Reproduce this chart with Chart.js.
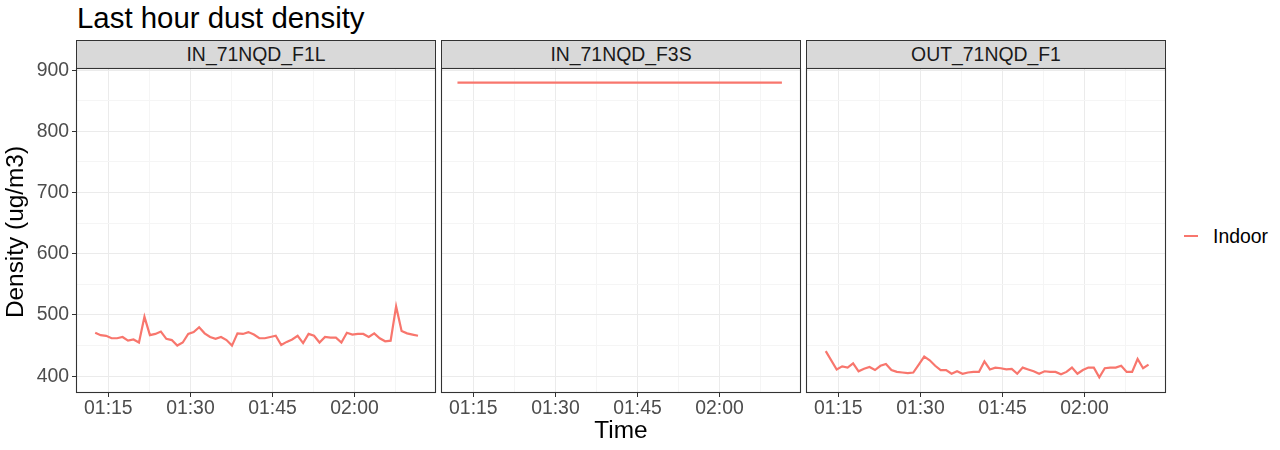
<!DOCTYPE html>
<html>
<head>
<meta charset="utf-8">
<script src="https://cdn.jsdelivr.net/npm/chart.js@4.4.1/dist/chart.umd.min.js"></script>
<style>
  html, body { margin: 0; padding: 0; background: #fff; }
  body { width: 1280px; height: 450px; position: relative; overflow: hidden; font-family: 'Liberation Sans', Arial, sans-serif; }
  .abs { position: absolute; white-space: nowrap; }
  .title { left: 77px; top: 3px; font-size: 29.4px; line-height: 1; color: #000; }
  .strip { top: 40px; width: 360px; height: 29px; box-sizing: border-box; background: #d9d9d9; border: 1px solid #333;
           font-size: 19.4px; line-height: 27px; color: #1a1a1a; text-align: center; }
  .panel { top: 58px; }
  .ytitle { left: -135px; top: 220px; width: 300px; height: 24px; font-size: 24.4px; line-height: 24px; text-align: center;
            transform: rotate(-90deg); color: #000; }
  .xtitle { left: 521px; top: 418px; width: 200px; font-size: 24.4px; line-height: 1; text-align: center; color: #000; }
  .key { left: 1184px; top: 235px; width: 14px; height: 2px; background: #F8766D; }
  .keytxt { left: 1213px; top: 227px; font-size: 19.4px; line-height: 1; color: #000; }
</style>
</head>
<body>
<div class="abs title">Last hour dust density</div>

<div class="abs strip" style="left:76px">IN_71NQD_F1L</div>
<div class="abs strip" style="left:441px">IN_71NQD_F3S</div>
<div class="abs strip" style="left:806px">OUT_71NQD_F1</div>

<div class="abs panel" style="left:0px"><canvas id="p1" width="440" height="375"></canvas></div>
<div class="abs panel" style="left:436px"><canvas id="p2" width="369" height="375"></canvas></div>
<div class="abs panel" style="left:801px"><canvas id="p3" width="369" height="375"></canvas></div>

<div class="abs ytitle">Density (ug/m3)</div>
<div class="abs xtitle">Time</div>
<div class="abs key"></div>
<div class="abs keytxt">Indoor</div>

<script>
// ── Data (time = minutes after 01:00) ─────────────────
const SERIES = 'Indoor';
const PANELS = ['IN_71NQD_F1L', 'IN_71NQD_F3S', 'OUT_71NQD_F1'];

const timeF1L = [12.6, 13.6, 14.6, 15.6, 16.6, 17.6, 18.6, 19.6, 20.6, 21.6,
                 22.6, 23.6, 24.6, 25.6, 26.6, 27.6, 28.6, 29.6, 30.6, 31.6,
                 32.6, 33.6, 34.6, 35.6, 36.6, 37.6, 38.6, 39.6, 40.6, 41.6,
                 42.6, 43.6, 44.6, 45.6, 46.6, 47.6, 48.6, 49.6, 50.6, 51.6,
                 52.6, 53.6, 54.6, 55.6, 56.6, 57.6, 58.6, 59.6, 60.6, 61.6,
                 62.6, 63.6, 64.6, 65.6, 66.6, 67.6, 68.6, 69.6, 70.6, 71.6];
const densF1L = [471, 467, 466, 462, 462, 464, 458, 460, 455, 497,
                 467, 469, 473, 461, 459, 450, 455, 469, 472, 480,
                 470, 464, 461, 464, 459, 450, 470, 469, 472, 468,
                 462, 462, 464, 466, 451, 456, 460, 466, 454, 469,
                 466, 455, 464, 463, 463, 455, 471, 468, 469, 469,
                 464, 470, 462, 457, 458, 514, 474, 470, 468, 466];

const timeF3S = [12.1, 71.4];
const densF3S = [879.7, 879.7];

const timeOut = [12.7, 14.7, 15.7, 16.7, 17.7, 18.7, 19.7, 20.7, 21.7, 22.7,
                 23.7, 24.7, 25.7, 26.7, 27.7, 28.7, 29.7, 30.7, 31.7, 32.7,
                 33.7, 34.7, 35.7, 36.7, 37.7, 38.7, 39.7, 40.7, 41.7, 42.7,
                 43.7, 44.7, 45.7, 46.7, 47.7, 48.7, 49.7, 50.7, 51.7, 52.7,
                 53.7, 54.7, 55.7, 56.7, 57.7, 58.7, 59.7, 60.7, 61.7, 62.7,
                 63.7, 64.7, 65.7, 66.7, 67.7, 68.7, 69.7, 70.7, 71.7];
const densOut = [441, 411, 416, 414, 421, 408, 412, 415, 410, 417,
                 420, 410, 407, 406, 405, 406, 419, 432, 426, 417,
                 410, 410, 404, 408, 404, 406, 407, 407, 424, 411,
                 414, 413, 411, 412, 404, 414, 411, 408, 404, 408,
                 407, 407, 403, 407, 414, 404, 410, 414, 414, 398,
                 413, 414, 414, 417, 407, 407, 428, 413, 419];

// axis ticks: majors get labels, the in-between ones are minor grid lines
const xTicks = [15, 22.5, 30, 37.5, 45, 52.5, 60, 67.5];
const yTicks = [400, 450, 500, 550, 600, 650, 700, 750, 800, 850, 900];
const X_MIN = 9.09, X_MAX = 74.89;
const Y_MIN = 372.5, Y_MAX = 903.6;

const RED = '#F8766D';
const FONT = "'Liberation Sans', Arial, sans-serif";

const fmtTime = v => {
  if (v % 15 !== 0) return '';
  const h = 1 + Math.floor(v / 60), m = v % 60;
  return String(h).padStart(2, '0') + ':' + String(m).padStart(2, '0');
};

// panel border drawn on top of the data
const panelBorder = {
  id: 'panelBorder',
  afterDraw(chart) {
    const { ctx, chartArea: a } = chart;
    ctx.save();
    ctx.strokeStyle = '#333333';
    ctx.lineWidth = 1.1;
    ctx.strokeRect(a.left + 0.5, a.top + 0.5, a.right - a.left - 1, a.bottom - a.top - 1);
    ctx.restore();
  }
};

function buildPanel(id, times, values, showY) {
  const isMajorX = v => v % 15 === 0;
  const isMajorY = v => v % 100 === 0;
  return new Chart(document.getElementById(id), {
    type: 'line',
    data: {
      datasets: [{
        label: SERIES,
        data: times.map((t, i) => ({ x: t, y: values[i] })),
        borderColor: RED,
        borderWidth: 2.2,
        pointRadius: 0,
        tension: 0,
        fill: false
      }]
    },
    options: {
      responsive: false,
      animation: false,
      layout: { padding: { top: 10, right: 4, bottom: 0, left: showY ? 0 : 5 } },
      plugins: { legend: { display: false }, tooltip: { enabled: false } },
      scales: {
        x: {
          type: 'linear', min: X_MIN, max: X_MAX,
          afterBuildTicks: s => { s.ticks = xTicks.map(v => ({ value: v })); },
          afterFit: s => { s.height = 40; s.paddingLeft = 0; s.paddingRight = 0; },
          border: { display: false },
          grid: {
            color: c => isMajorX(c.tick.value) ? '#EBEBEB' : '#F5F5F5',
            tickColor: c => isMajorX(c.tick.value) ? '#333333' : 'rgba(0,0,0,0)',
            tickLength: 4
          },
          ticks: { callback: v => fmtTime(v), autoSkip: false, maxRotation: 0, padding: 0,
                   color: '#4D4D4D', font: { family: FONT, size: 19.4 } }
        },
        y: {
          min: Y_MIN, max: Y_MAX,
          afterBuildTicks: s => { s.ticks = yTicks.map(v => ({ value: v })); },
          afterFit: s => { s.width = showY ? 76 : 0; s.paddingTop = 0; s.paddingBottom = 0; },
          border: { display: false },
          grid: {
            color: c => isMajorY(c.tick.value) ? '#EBEBEB' : '#F5F5F5',
            tickColor: c => isMajorY(c.tick.value) ? '#333333' : 'rgba(0,0,0,0)',
            drawTicks: showY,
            tickLength: 4
          },
          ticks: { display: showY, callback: v => isMajorY(v) ? String(v) : '', autoSkip: false, padding: 3,
                   color: '#4D4D4D', font: { family: FONT, size: 19.4 } }
        }
      }
    },
    plugins: [panelBorder]
  });
}

buildPanel('p1', timeF1L, densF1L, true);
buildPanel('p2', timeF3S, densF3S, false);
buildPanel('p3', timeOut, densOut, false);
</script>
</body>
</html>
